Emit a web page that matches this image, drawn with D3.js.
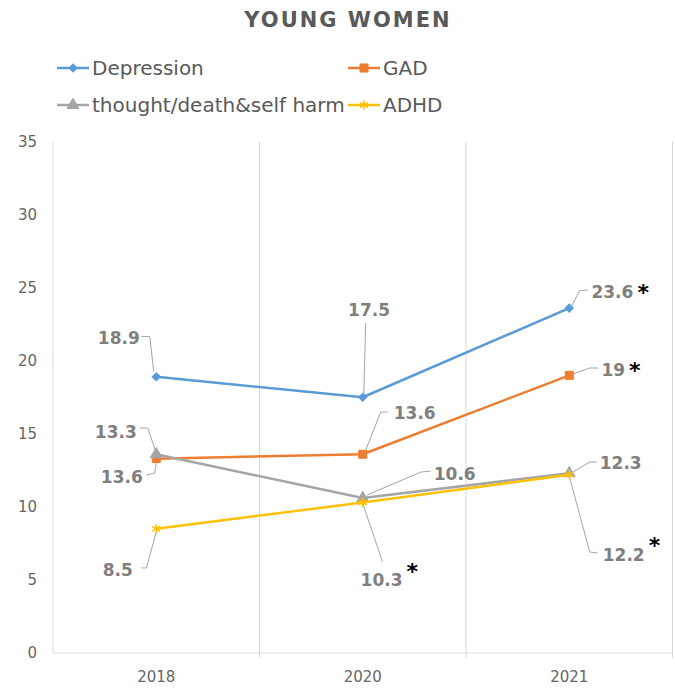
<!DOCTYPE html>
<html>
<head>
<meta charset="utf-8">
<script src="https://cdn.jsdelivr.net/npm/d3@7"></script>
<style>
  html, body { margin: 0; padding: 0; background: #ffffff; }
  svg { display: block; }
</style>
</head>
<body>
<div id="chart"></div>
<script>
// ---- data ----
const years = ["2018", "2020", "2021"];
const seriesNames = ["Depression", "GAD", "thought/death&self harm", "ADHD"];
const depression = [18.9, 17.5, 23.6];
const gad = [13.3, 13.6, 19];
const thought = [13.6, 10.6, 12.3];
const adhd = [8.5, 10.3, 12.2];
// statistically significant change flags (shown with an asterisk)
const depressionSig = [false, false, true];
const gadSig = [false, false, true];
const thoughtSig = [false, false, false];
const adhdSig = [false, true, true];
const yTicks = [0, 5, 10, 15, 20, 25, 30, 35];
const title = "YOUNG WOMEN";

// ---- look ----
const W = 675, H = 695;
const colors = ["#5B9BD5", "#ED7D31", "#A5A5A5", "#FFC000"];
const markers = ["diamond", "square", "triangle", "star"];
const FONT = "'DejaVu Sans', sans-serif";

// label placement per series and year: text offset from the point,
// anchor, and the leader polyline (offsets from the point)
const labelLayout = [
  [ {dx: -16.5, dy: -38.8, a: "end",    lead: [[-14.8,-40.3],[-6.5,-40.3],[-2.5,-5]]},
    {dx: 6.3,   dy: -87.3, a: "middle", lead: [[3,-74.3],[1,-3.5]]},
    {dx: 22.2,  dy: -16.4, a: "start",  lead: [[2.5,-2],[10.5,-17.4],[18.5,-18.1]]} ],
  [ {dx: -19.5, dy: -26.9, a: "end",    lead: [[-16.5,-30.6],[-8.5,-30.6],[0,-5.6]]},
    {dx: 31,    dy: -41.2, a: "start",  lead: [[3,-4.2],[18,-42.2],[25,-42.2]]},
    {dx: 32.2,  dy: -5.3,  a: "start",  lead: [[3.5,-1.3],[20.5,-7.3],[28.5,-7.3]]} ],
  [ {dx: -13.5, dy: 22.5,  a: "end",    lead: [[-9.8,20.8],[-1.5,18.8],[0,8.8]]},
    {dx: 71,    dy: -24.1, a: "start",  lead: [[4,-3],[58,-26],[68,-27]]},
    {dx: 30.5,  dy: -10.2, a: "start",  lead: [[3.5,-1.2],[20.5,-11.2],[27.5,-11.2]]} ],
  [ {dx: -23.5, dy: 41.2,  a: "end",    lead: [[-14.8,39.2],[-9.8,39.2],[0,3.2]]},
    {dx: 18.8,  dy: 77.5,  a: "middle", lead: [[0,1],[19.7,59.2]]},
    {dx: 33.5,  dy: 80.3,  a: "start",  lead: [[0.5,3.3],[20.5,77.3],[28.5,78.3]]} ]
];
// asterisk vertical shift relative to the label centre (superscript style)
const starLift = [[0,0,0],[0,0,0],[0,0,0],[0,-9,-10]];

const valuesBySeries = [depression, gad, thought, adhd];
const sigBySeries = [depressionSig, gadSig, thoughtSig, adhdSig];

const svg = d3.select("#chart").append("svg")
  .attr("width", W).attr("height", H)
  .style("background", "#fff");

const plot = {left: 53, right: 672.5, top: 141.5, bottom: 653};

const x = d3.scaleBand().domain(years).range([plot.left, plot.right]).padding(0);
const y = d3.scaleLinear().domain([0, 35]).range([plot.bottom, plot.top]);
const cx = d => x(d) + x.bandwidth() / 2;

// ---- title ----
svg.append("text")
  .attr("x", 348).attr("y", 27)
  .attr("text-anchor", "middle")
  .style("font-family", FONT).style("font-weight", "bold")
  .style("font-size", "21px").style("letter-spacing", "2px")
  .attr("fill", "#595959")
  .text(title);

// ---- gridlines (category boundaries) and axis lines ----
const grid = svg.append("g").attr("stroke", "#d9d9d9").attr("stroke-width", 1);
const boundaries = years.map(d => x(d) + x.bandwidth()).concat([plot.left]);
boundaries.forEach(b => {
  grid.append("line")
    .attr("x1", b).attr("x2", b)
    .attr("y1", plot.top).attr("y2", plot.bottom + (b === plot.left ? 0 : 5));
});
grid.append("line")
  .attr("x1", plot.left).attr("x2", plot.right)
  .attr("y1", plot.bottom).attr("y2", plot.bottom);

// ---- axes ----
const yAxis = svg.append("g")
  .attr("transform", `translate(${plot.left},0)`)
  .call(d3.axisLeft(y).tickValues(yTicks).tickSize(0).tickPadding(16));
yAxis.select(".domain").remove();
yAxis.selectAll("text")
  .style("font-family", FONT).style("font-size", "15px").attr("fill", "#666666");

const xAxis = svg.append("g")
  .attr("transform", `translate(0,${plot.bottom})`)
  .call(d3.axisBottom(x).tickSize(0).tickPadding(18));
xAxis.select(".domain").remove();
xAxis.selectAll("text")
  .style("font-family", FONT).style("font-size", "15px").attr("fill", "#666666");

// ---- markers ----
function drawMarker(g, type, color, px, py) {
  if (type === "diamond") {
    g.append("path").attr("d", d3.symbol(d3.symbolSquare, 34)())
      .attr("transform", `translate(${px},${py}) rotate(45)`)
      .attr("fill", color).attr("stroke", color).attr("stroke-width", 1);
  } else if (type === "square") {
    g.append("path").attr("d", d3.symbol(d3.symbolSquare, 64)())
      .attr("transform", `translate(${px},${py})`)
      .attr("fill", color).attr("stroke", color).attr("stroke-width", 1);
  } else if (type === "triangle") {
    g.append("path").attr("d", d3.symbol(d3.symbolTriangle, 60)())
      .attr("transform", `translate(${px},${py})`)
      .attr("fill", color).attr("stroke", color).attr("stroke-width", 1);
  } else {
    g.append("path").attr("d", d3.symbol(d3.symbolAsterisk, 60)())
      .attr("transform", `translate(${px},${py})`)
      .attr("fill", "none").attr("stroke", color).attr("stroke-width", 1.6);
  }
}

// ---- leader lines ----
const leaders = svg.append("g")
  .attr("fill", "none").attr("stroke", "#a6a6a6").attr("stroke-width", 1);
valuesBySeries.forEach((vals, si) => {
  vals.forEach((v, i) => {
    const px = cx(years[i]), py = y(v);
    const pts = labelLayout[si][i].lead.map(p => [px + p[0], py + p[1]]);
    leaders.append("path").attr("d", d3.line()(pts));
  });
});

// ---- series lines and points ----
const lineGen = d3.line().x((d, i) => cx(years[i])).y(d => y(d));
valuesBySeries.forEach((vals, si) => {
  const g = svg.append("g");
  g.append("path").datum(vals)
    .attr("d", lineGen)
    .attr("fill", "none").attr("stroke", colors[si])
    .attr("stroke-width", 2.5).attr("stroke-linejoin", "round");
  vals.forEach((v, i) => drawMarker(g, markers[si], colors[si], cx(years[i]), y(v)));
});

// ---- data labels ----
const labels = svg.append("g");
valuesBySeries.forEach((vals, si) => {
  vals.forEach((v, i) => {
    const L = labelLayout[si][i];
    const px = cx(years[i]), py = y(v);
    const tx = px + L.dx, tyc = py + L.dy;
    const t = labels.append("text")
      .attr("x", tx).attr("y", tyc + 6.2)
      .attr("text-anchor", L.a)
      .style("font-family", FONT).style("font-weight", "bold").style("font-size", "17px")
      .attr("fill", "#7f7f7f")
      .text(String(v));
    if (sigBySeries[si][i]) {
      const w = t.node().getComputedTextLength();
      const end = L.a === "start" ? tx + w : L.a === "middle" ? tx + w / 2 : tx;
      labels.append("text")
        .attr("x", end + 4).attr("y", tyc + starLift[si][i] + 8)
        .style("font-family", FONT).style("font-weight", "bold").style("font-size", "22px")
        .attr("fill", "#000")
        .text("*");
    }
  });
});

// ---- legend ----
const legendItems = [
  {x: 57, y: 68, i: 0}, {x: 348, y: 68, i: 1},
  {x: 57, y: 105, i: 2}, {x: 348, y: 105, i: 3}
];
const legend = svg.append("g");
legendItems.forEach(it => {
  const g = legend.append("g");
  g.append("line")
    .attr("x1", it.x).attr("x2", it.x + 32)
    .attr("y1", it.y).attr("y2", it.y)
    .attr("stroke", colors[it.i]).attr("stroke-width", 2.5);
  drawMarker(g, markers[it.i], colors[it.i], it.x + 16, it.y);
  g.append("text")
    .attr("x", it.x + 35).attr("y", it.y + 7)
    .style("font-family", FONT).style("font-size", "20px")
    .attr("fill", "#595959")
    .text(seriesNames[it.i]);
});
</script>
</body>
</html>
